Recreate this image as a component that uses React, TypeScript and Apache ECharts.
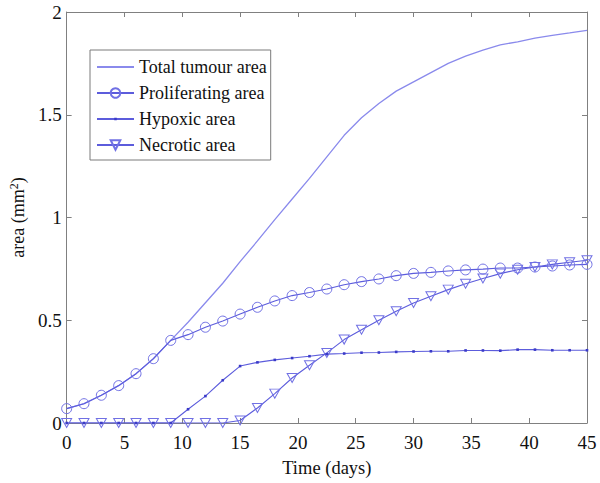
import React, { useEffect, useRef } from "react";
import * as echarts from "echarts";

const days = [0, 1.5, 3, 4.5, 6, 7.5, 9, 10.5, 12, 13.5, 15, 16.5, 18, 19.5, 21, 22.5, 24, 25.5, 27, 28.5, 30, 31.5, 33, 34.5, 36, 37.5, 39, 40.5, 42, 43.5, 45];

const totalArea = [0.07, 0.094, 0.135, 0.182, 0.24, 0.313, 0.402, 0.49, 0.585, 0.68, 0.785, 0.886, 0.99, 1.09, 1.19, 1.295, 1.4, 1.485, 1.555, 1.615, 1.66, 1.705, 1.75, 1.785, 1.815, 1.84, 1.855, 1.873, 1.886, 1.898, 1.911];

const proliferatingArea = [0.07, 0.094, 0.135, 0.182, 0.24, 0.313, 0.402, 0.43, 0.466, 0.496, 0.53, 0.563, 0.594, 0.62, 0.635, 0.652, 0.673, 0.688, 0.701, 0.717, 0.728, 0.733, 0.74, 0.745, 0.749, 0.754, 0.754, 0.759, 0.764, 0.769, 0.772];

const hypoxicArea = [0, 0, 0, 0, 0, 0, 0, 0.067, 0.131, 0.208, 0.277, 0.295, 0.307, 0.316, 0.325, 0.335, 0.338, 0.342, 0.343, 0.346, 0.348, 0.349, 0.349, 0.353, 0.353, 0.352, 0.357, 0.357, 0.354, 0.354, 0.354];

const necroticArea = [0, 0, 0, 0, 0, 0, 0, 0, 0, 0, 0.012, 0.073, 0.143, 0.219, 0.281, 0.341, 0.406, 0.454, 0.5, 0.544, 0.584, 0.617, 0.649, 0.678, 0.703, 0.727, 0.746, 0.759, 0.772, 0.782, 0.792];

const seriesNames = ["Total tumour area", "Proliferating area", "Hypoxic area", "Necrotic area"];

const FONT = "Liberation Serif";
const AXIS = "#808080";
const C_TOTAL = "#8a8aec";
const C_LINE = "#5c5cdc";
const C_MARK = "#7070e4";

// small dot inside an empty 10x10 box, so that it stays small when scaled
const DOT = "path://M0,0 M10,10 M3.7,3.7 L6.3,3.7 L6.3,6.3 L3.7,6.3 Z";
const TRI_DOWN = "path://M0,0 L10,0 L5,9 Z";

const pairs = (ys: number[]) => days.map((d, i) => [d, ys[i]]);

export default function App() {
  const ref = useRef<HTMLDivElement>(null);
  useEffect(() => {
    document.body.style.margin = "0";
    if (!ref.current) return;
    const chart = echarts.init(ref.current, undefined, { renderer: "svg" });
    const xBase = {
      type: "value" as const,
      min: 0,
      max: 45,
      interval: 5,
      splitLine: { show: false },
      axisLine: { show: true, onZero: false, lineStyle: { color: AXIS, width: 1 } },
      axisTick: { show: true, inside: true, length: 5, lineStyle: { color: AXIS } },
    };
    const yBase = {
      type: "value" as const,
      min: 0,
      max: 2,
      interval: 0.5,
      splitLine: { show: false },
      axisLine: { show: true, onZero: false, lineStyle: { color: AXIS, width: 1 } },
      axisTick: { show: true, inside: true, length: 5, lineStyle: { color: AXIS } },
    };
    chart.setOption({
      animation: false,
      backgroundColor: "#ffffff",
      textStyle: { fontFamily: FONT },
      grid: { left: 63, right: 13, top: 12, bottom: 60 },
      legend: {
        left: 90,
        top: 50,
        orient: "vertical",
        data: [
          { name: seriesNames[0], itemStyle: { color: "rgba(0,0,0,0)", borderWidth: 0 } },
          { name: seriesNames[1] },
          { name: seriesNames[2] },
          { name: seriesNames[3] },
        ],
        backgroundColor: "#ffffff",
        borderColor: "#7a7a7a",
        borderWidth: 1,
        padding: [8, 4, 6, 6],
        itemWidth: 37,
        itemHeight: 12,
        itemGap: 8,
        textStyle: { fontFamily: FONT, fontSize: 18, color: "#111" },
      },
      xAxis: [
        {
          ...xBase,
          position: "bottom",
          name: "Time (days)",
          nameLocation: "middle",
          nameGap: 35,
          nameTextStyle: { fontFamily: FONT, fontSize: 18.5, color: "#111" },
          axisLabel: { fontFamily: FONT, fontSize: 19, color: "#111", margin: 10 },
        },
        { ...xBase, position: "top", axisLabel: { show: false } },
      ],
      yAxis: [
        {
          ...yBase,
          position: "left",
          name: "area (mm{sup|2})",
          nameLocation: "middle",
          nameGap: 34,
          nameTextStyle: {
            fontFamily: FONT,
            fontSize: 18,
            color: "#111",
            rich: { sup: { fontFamily: FONT, fontSize: 12, color: "#111", verticalAlign: "top", padding: [0, 0, 8, 0] } },
          },
          axisLabel: { fontFamily: FONT, fontSize: 19, color: "#111", margin: 5 },
        },
        { ...yBase, position: "right", axisLabel: { show: false } },
      ],
      series: [
        {
          name: seriesNames[0],
          type: "line",
          data: pairs(totalArea),
          showSymbol: false,
          symbol: "none",
          lineStyle: { color: C_TOTAL, width: 1.3 },
          itemStyle: { color: C_TOTAL },
          z: 2,
        },
        {
          name: seriesNames[1],
          type: "line",
          data: pairs(proliferatingArea),
          symbol: "circle",
          symbolSize: 10,
          lineStyle: { color: C_LINE, width: 1.1 },
          itemStyle: { color: "rgba(255,255,255,0)", borderColor: C_MARK, borderWidth: 1 },
          z: 3,
        },
        {
          name: seriesNames[2],
          type: "line",
          data: pairs(hypoxicArea),
          symbol: DOT,
          symbolSize: 10,
          lineStyle: { color: C_LINE, width: 1.1 },
          itemStyle: { color: "#3a3ac8" },
          z: 4,
        },
        {
          name: seriesNames[3],
          type: "line",
          data: pairs(necroticArea),
          symbol: TRI_DOWN,
          symbolSize: [10, 9],
          lineStyle: { color: C_LINE, width: 1.1 },
          itemStyle: { color: "rgba(255,255,255,0)", borderColor: C_MARK, borderWidth: 1 },
          z: 3,
        },
      ],
    });
    return () => chart.dispose();
  }, []);
  return <div ref={ref} style={{ width: 600, height: 483 }} />;
}
